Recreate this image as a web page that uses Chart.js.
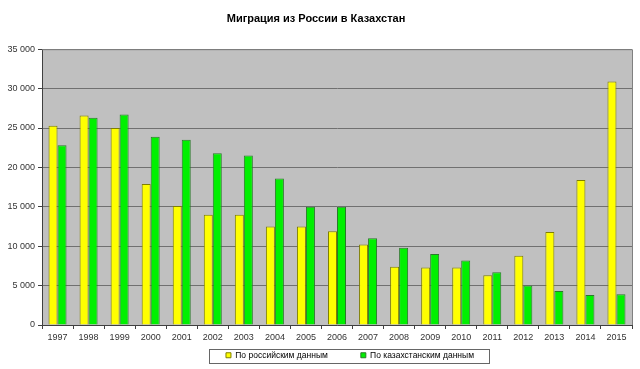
<!DOCTYPE html>
<html>
<head>
<meta charset="utf-8">
<script src="https://cdn.jsdelivr.net/npm/chart.js@4"></script>
<style>
  html, body { margin: 0; padding: 0; background: #fff; }
  #wrap { width: 640px; height: 369px; }
</style>
</head>
<body>
<div id="wrap"><canvas id="bars" width="640" height="369"></canvas></div>
<script>
const years = ['1997', '1998', '1999', '2000', '2001', '2002', '2003', '2004', '2005', '2006',
  '2007', '2008', '2009', '2010', '2011', '2012', '2013', '2014', '2015']
const russianData = [25300, 26600, 25000, 17900, 15100, 14000, 14000, 12500, 12500, 11900,
  10200, 7400, 7300, 7300, 6300, 8800, 11800, 18400, 30900]
const kazakhData = [22800, 26300, 26700, 23900, 23500, 21800, 21500, 18600, 15000, 15000,
  11000, 9800, 9000, 8200, 6700, 5000, 4300, 3800, 3900]
const yTicks = [0, 5000, 10000, 15000, 20000, 25000, 30000, 35000]

const LEGEND_PAD = 33
const LEGEND_TOP = 318   // legend items end up at LEGEND_TOP + LEGEND_PAD
const LEGEND_DX = 34     // legend sits right of centre in the original

// grey plot background + border, and a frame around the legend
const plotBg = {
  id: 'plotBg',
  beforeDraw(chart) {
    const { ctx, chartArea: a } = chart
    ctx.save()
    ctx.fillStyle = '#c0c0c0'
    ctx.fillRect(a.left, a.top, a.right - a.left, a.bottom - a.top)
    ctx.restore()
    const lg = chart.legend
    lg.top = LEGEND_TOP
    lg.left += LEGEND_DX
    lg.right += LEGEND_DX
  },
  afterDraw(chart) {
    const { ctx, chartArea: a } = chart
    ctx.save()
    ctx.strokeStyle = '#808080'
    ctx.lineWidth = 1
    ctx.beginPath()
    ctx.moveTo(a.left, a.top + 0.5)
    ctx.lineTo(a.right + 0.5, a.top + 0.5)
    ctx.lineTo(a.right + 0.5, a.bottom)
    ctx.stroke()
    const boxes = chart.legend.legendHitBoxes
    if (boxes && boxes.length) {
      const first = boxes[0], last = boxes[boxes.length - 1]
      const l = Math.round(first.left + LEGEND_DX - 17) + 0.5
      const r = Math.round(last.left + last.width + LEGEND_DX + 15) + 0.5
      const t = LEGEND_TOP + LEGEND_PAD - 1.5
      const b = LEGEND_TOP + LEGEND_PAD + 12.5
      ctx.strokeStyle = '#666'
      ctx.strokeRect(l, t, r - l, b - t)
    }
    ctx.restore()
  }
}

const barConfig = {
  type: 'bar',
  data: {
    labels: years,
    datasets: [
      {
        label: 'По российским данным',
        backgroundColor: '#ffff00',
        borderColor: '#7f7f00',
        borderWidth: 1,
        data: russianData,
      },
      {
        label: 'По казахстанским данным',
        backgroundColor: '#00f000',
        borderColor: '#2a7a2a',
        borderWidth: 1,
        data: kazakhData,
      },
    ],
  },
  options: {
    responsive: false,
    animation: false,
    layout: { padding: { left: 0, right: 8, top: 0, bottom: 0 } },
    datasets: {
      bar: { categoryPercentage: 0.58, barPercentage: 1 }
    },
    plugins: {
      title: {
        display: true,
        text: 'Миграция из России в Казахстан',
        color: '#000',
        font: { family: 'Liberation Sans', size: 11, weight: 'bold' },
        padding: { top: 12, bottom: 24 },
      },
      legend: {
        position: 'bottom',
        maxHeight: 24,
        labels: {
          boxWidth: 5,
          boxHeight: 5,
          color: '#000',
          padding: LEGEND_PAD,
          font: { family: 'Liberation Sans', size: 8.5 },
        },
      },
      tooltip: { enabled: false },
    },
    scales: {
      x: {
        grid: { drawOnChartArea: false, drawTicks: true, tickLength: 4, color: '#404040', offset: true },
        border: { color: '#404040' },
        ticks: { color: '#333', font: { family: 'Liberation Sans', size: 9 }, maxRotation: 0, autoSkip: false, padding: 3 },
        afterFit(scale) { scale.height = 20 },
      },
      y: {
        min: 0,
        max: 35000,
        afterBuildTicks(scale) { scale.ticks = yTicks.map(v => ({ value: v })) },
        grid: { color: '#707070', tickLength: 4, tickColor: '#404040' },
        border: { color: '#404040' },
        ticks: {
          color: '#333',
          font: { family: 'Liberation Sans', size: 9 },
          padding: 3,
          callback: v => String(v).replace(/\B(?=(\d{3})+(?!\d))/g, ' '),
        },
        afterFit(scale) { scale.width = 42 },
      },
    },
  },
  plugins: [plotBg],
}

const barsCtx = document.getElementById('bars')
window.myBar = new Chart(barsCtx, barConfig)
</script>
</body>
</html>
